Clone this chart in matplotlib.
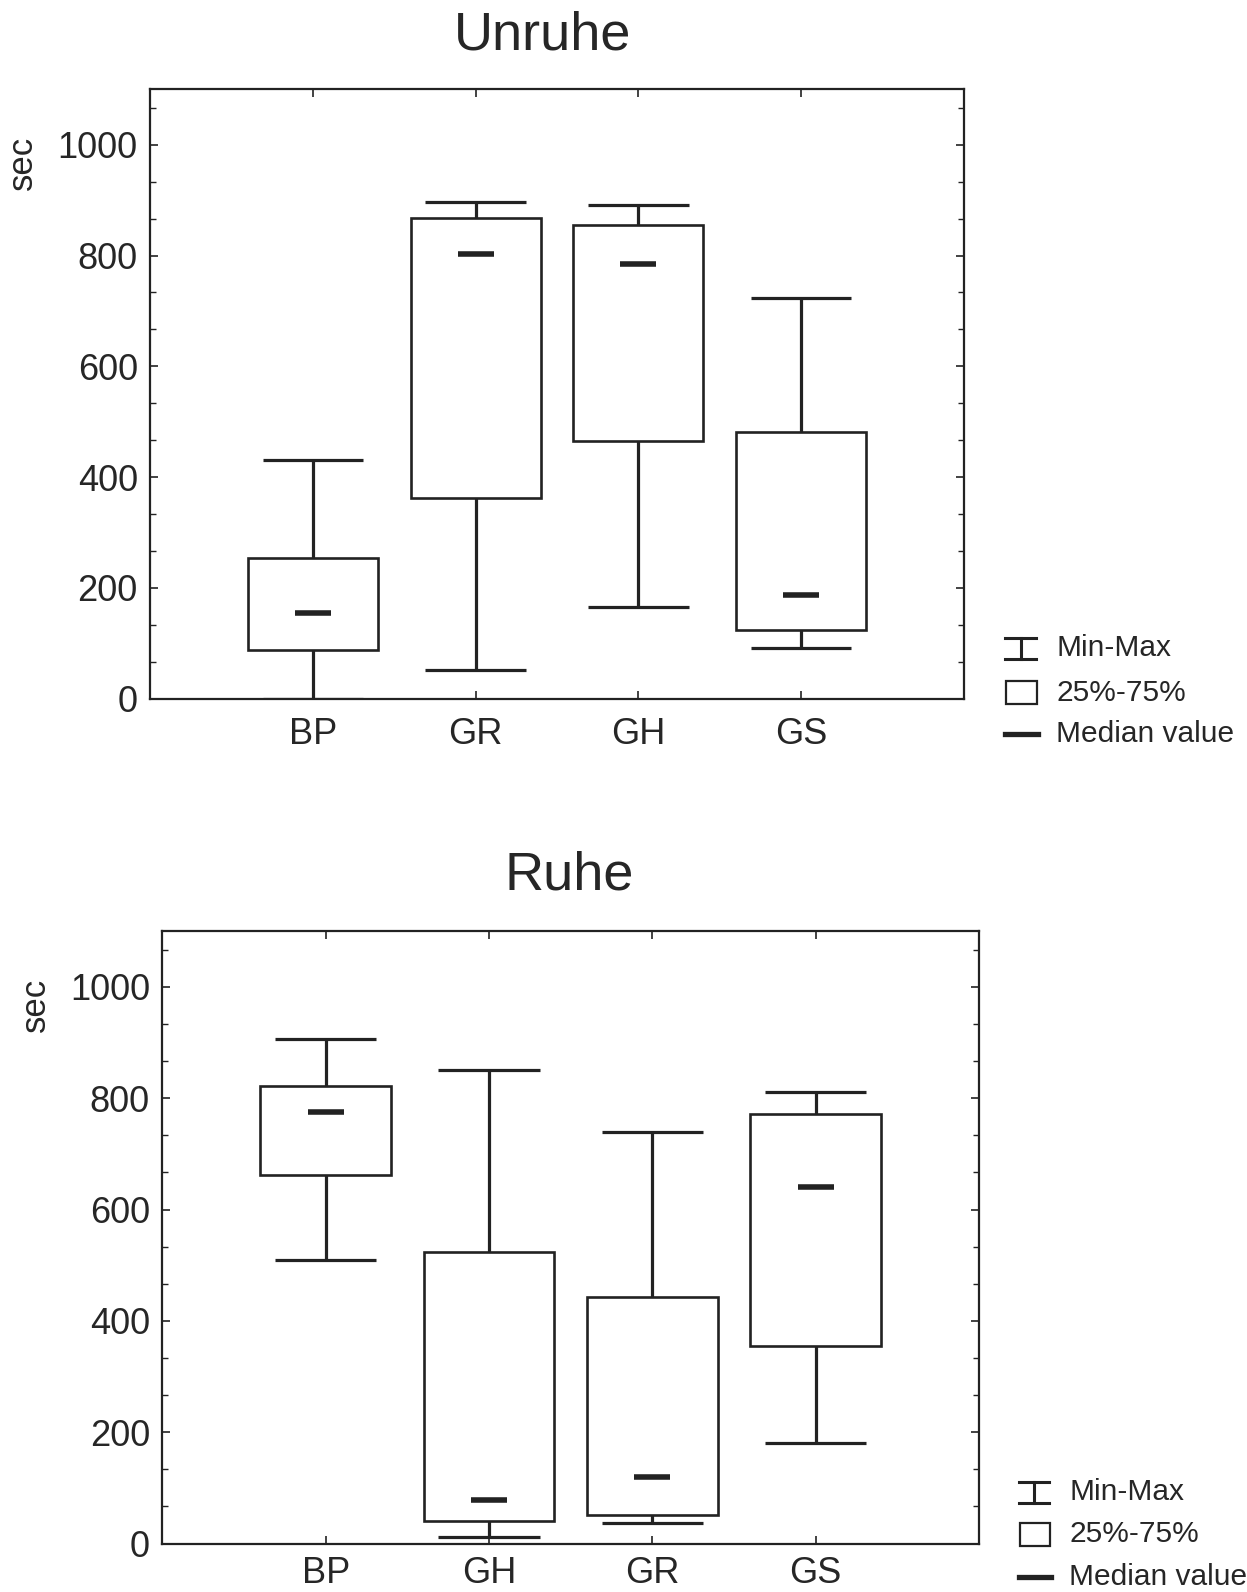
import matplotlib
matplotlib.use("Agg")
import matplotlib.pyplot as plt
from matplotlib.ticker import AutoMinorLocator
from matplotlib.lines import Line2D
from matplotlib.patches import Rectangle

plt.rcParams['font.family'] = ['Liberation Sans', 'DejaVu Sans']

# ---- data ----
top_title = "Unruhe"
top_cats = ["BP", "GR", "GH", "GS"]
top_min = [0, 51, 166, 91]
top_q1 = [88, 362, 466, 124]
top_med = [155, 803, 784, 188]
top_q3 = [254, 868, 856, 481]
top_max = [431, 896, 892, 724]

bot_title = "Ruhe"
bot_cats = ["BP", "GH", "GR", "GS"]
bot_min = [509, 11, 36, 181]
bot_q1 = [662, 40, 51, 354]
bot_med = [776, 78, 120, 641]
bot_q3 = [821, 524, 442, 772]
bot_max = [907, 850, 739, 812]

y_ticks = [0, 200, 400, 600, 800, 1000]
legend_labels = ["Min-Max", "25%-75%", "Median value"]
ylabel = "sec"

W, H = 1247, 1592
S = 1247 / 1228.0
LC = "#222222"
TC = "#262626"

fig = plt.figure(figsize=(W / 100, H / 100), dpi=100)
fig.patch.set_facecolor("white")


def fx(x):
    return x * S / W


def fy(y):
    return 1 - y * S / H


def make_axes(l, t, r, b):
    return fig.add_axes([fx(l), fy(b), fx(r) - fx(l), fy(t) - fy(b)])


def draw(ax, cats, mn, q1, med, q3, mx, xpad):
    pos = list(range(1, len(cats) + 1))
    ax.bar(pos, [a - b for a, b in zip(q3, q1)], bottom=q1, width=0.8,
           facecolor="none", edgecolor=LC, linewidth=1.9, zorder=3)
    ax.vlines(pos, q3, mx, color=LC, linewidth=2.3, zorder=3)
    ax.vlines(pos, mn, q1, color=LC, linewidth=2.3, zorder=3)
    ax.hlines(mx, [p - 0.31 for p in pos], [p + 0.31 for p in pos], color=LC, linewidth=2.3, zorder=3)
    ax.hlines(mn, [p - 0.31 for p in pos], [p + 0.31 for p in pos], color=LC, linewidth=2.3, zorder=3)
    ax.hlines(med, [p - 0.11 for p in pos], [p + 0.11 for p in pos], color=LC, linewidth=4, zorder=4)
    ax.set_xlim(0, len(cats) + 1)
    ax.set_ylim(0, 1100)
    ax.set_xticks(pos)
    ax.set_xticklabels(cats)
    ax.set_yticks(y_ticks)
    ax.yaxis.set_minor_locator(AutoMinorLocator(3))
    ax.tick_params(axis="both", which="both", direction="in", top=True, right=True,
                   color=LC, labelcolor=TC, labelsize=26)
    ax.tick_params(axis="y", which="major", length=6, width=1.2, pad=9)
    ax.tick_params(axis="y", which="minor", length=4, width=1.0)
    ax.tick_params(axis="x", which="major", length=6, width=1.2, pad=xpad)
    for sp in ax.spines.values():
        sp.set_color(LC)
        sp.set_linewidth(1.6)


def legend(x0, ys):
    # I-shaped Min-Max symbol
    y = ys[0]
    xa, xb = fx(x0), fx(x0 + 30)
    xc = fx(x0 + 15)
    fig.add_artist(Line2D([xa, xb], [fy(y - 10), fy(y - 10)], color=LC, lw=2.2))
    fig.add_artist(Line2D([xa, xb], [fy(y + 11), fy(y + 11)], color=LC, lw=2.2))
    fig.add_artist(Line2D([xc, xc], [fy(y - 10), fy(y + 11)], color=LC, lw=2.2))
    # box
    y = ys[1]
    fig.add_artist(Rectangle((fx(x0 + 1), fy(y + 11)), fx(x0 + 31) - fx(x0 + 1), fy(y - 11) - fy(y + 11),
                             transform=fig.transFigure, facecolor="none", edgecolor=LC, lw=1.6))
    # median
    y = ys[2]
    fig.add_artist(Line2D([fx(x0), fx(x0 + 32)], [fy(y), fy(y)], color=LC, lw=3.8))
    for lab, yy in zip(legend_labels, ys):
        fig.text(fx(x0 + 50), fy(yy), lab, fontsize=21.5, color=TC, va="center", ha="left")


ax1 = make_axes(148, 88, 949, 688)
draw(ax1, top_cats, top_min, top_q1, top_med, top_q3, top_max, 13)
fig.text(fx(534), fy(35), top_title, fontsize=39, color=TC, ha="center", va="center")
fig.text(fx(22), fy(160), ylabel, fontsize=25, color=TC, ha="center", va="center", rotation=90)
legend(990, [638, 682, 723])

ax2 = make_axes(160, 917, 964, 1520)
draw(ax2, bot_cats, bot_min, bot_q1, bot_med, bot_q3, bot_max, 9)
fig.text(fx(561), fy(862), bot_title, fontsize=39, color=TC, ha="center", va="center")
fig.text(fx(35), fy(990), ylabel, fontsize=25, color=TC, ha="center", va="center", rotation=90)
legend(1003, [1469, 1511, 1553])

fig.savefig("out.png", dpi=100, facecolor="white")
